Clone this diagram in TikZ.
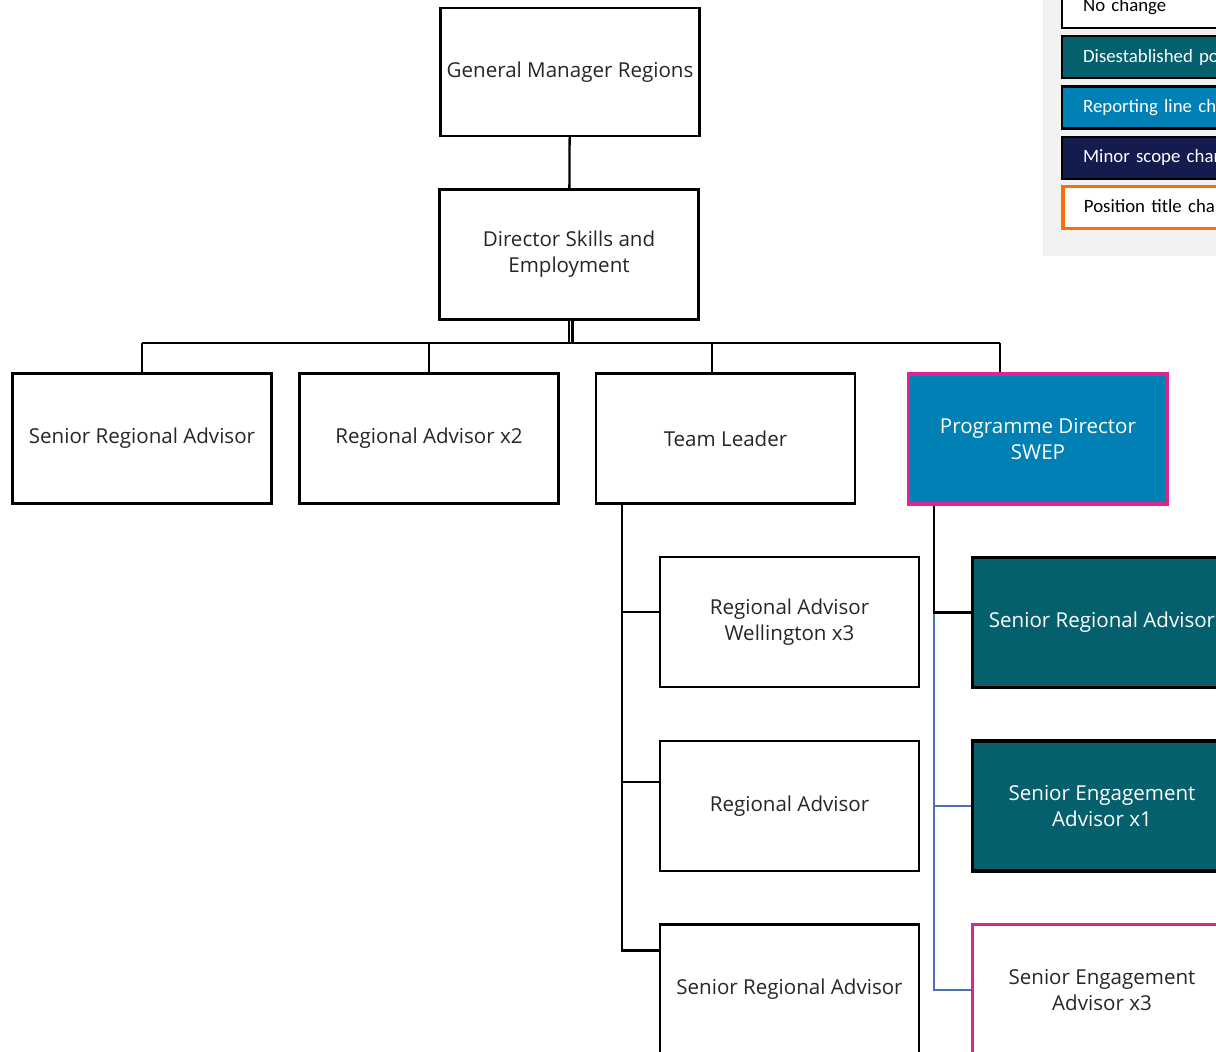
\documentclass[tikz,border=0pt]{standalone}
\usepackage{fontspec}
\setmainfont{Open Sans}
\newfontfamily\keyfont{Carlito}
\usetikzlibrary{positioning}

\definecolor{disest}{HTML}{04606D}
\definecolor{reportln}{HTML}{0080B5}
\definecolor{minorsc}{HTML}{141B4D}
\definecolor{titlechg}{HTML}{FF6C0C}
\definecolor{pdborder}{HTML}{D9278F}
\definecolor{lineblue}{HTML}{4A72B8}

\begin{document}
\begin{tikzpicture}[x=0.02cm, y=-0.02cm,
    box/.style={draw, line width=1.3pt, minimum width=5.18cm, minimum height=2.6cm,
      align=center, text=black!85, font=\fontsize{11.7}{14.8}\selectfont},
    gone/.style={box, fill=disest, text=white, line width=2.2pt},
    moved/.style={box, fill=reportln, draw=pdborder, text=white, line width=2pt},
    retitled/.style={box, draw=pdborder, line width=1.8pt},
    key/.style={draw, line width=1.3pt, anchor=west, minimum height=0.84cm,
      text width=6cm, align=left, inner xsep=0.42cm,
      font=\keyfont\fontsize{10.7}{12}\selectfont},
    link/.style={line width=1.3pt}]
  \clip (0,0) rectangle (1216,1051);

  % legend
  \fill[black!5] (1043,-10) rectangle (1230,256);
  \node[key, fill=white] (knone) at (1061,7) {No change};
  \node[key, fill=disest, text=white] (kgone) at (1061,57) {Disestablished position};
  \node[key, fill=reportln, text=white] (kline) at (1061,107.5) {Reporting line change};
  \node[key, fill=minorsc, text=white] (kscope) at (1061,158) {Minor scope change};
  \node[key, fill=white, draw=titlechg, line width=2.2pt] (ktitle) at (1061,207.5) {Position title change};

  % top of the tree
  \node[box, minimum height=2.56cm] (gm) at (570,72) {General Manager Regions};
  \node[box] (dir) at (569,254.5) {Director Skills and\\Employment};
  \draw[link] (gm) -- (dir);

  % second row
  \node[box] (sra) at (142,438.5) {Senior Regional Advisor};
  \node[box] (ra) at (429,438.5) {Regional Advisor x2};
  \node[box] (tl) at (725.5,438.5) {Team Leader};
  \node[moved] (pd) at (1038,439) {Programme Director\\SWEP};

  \coordinate (bus) at (571,343);
  \draw[link] (dir.south) -- (dir.south |- bus);
  \draw[link] ([xshift=0.07cm]dir.south) -- ([xshift=0.07cm]dir.south |- bus);
  \draw[link] (sra.north |- bus) -- ([xshift=-0.76cm]pd.north |- bus);
  \draw[link] (sra.north) -- (sra.north |- bus);
  \draw[link] (ra.north) -- (ra.north |- bus);
  \draw[link] ([xshift=-0.27cm]tl.north) -- ([xshift=-0.27cm]tl.north |- bus);
  \draw[link] ([xshift=-0.76cm]pd.north) -- ([xshift=-0.76cm]pd.north |- bus);

  % team leader reports
  \node[box] (sub1) at (789.5,622) {Regional Advisor\\Wellington x3};
  \node[box, below=1.03cm of sub1] (sub2) {Regional Advisor};
  \node[box, below=1.03cm of sub2] (sub3) {Senior Regional Advisor};

  \coordinate (tlspine) at ([xshift=0.54cm]tl.south west);
  \draw[link] (tlspine) |- ([yshift=0.78cm]sub3.west);
  \draw[link] (tlspine) |- ([yshift=0.48cm]sub2.west);
  \draw[link] (tlspine) |- ([yshift=0.2cm]sub1.west);

  % programme director reports
  \node[gone] (pd1) at (1102,622.5) {Senior Regional Advisor};
  \node[gone, below=1.0cm of pd1] (pd2) {Senior Engagement\\Advisor x1};
  \node[retitled, below=1.0cm of pd2] (pd3) {Senior Engagement\\Advisor x3};

  \coordinate (pdspine) at ([xshift=0.54cm]pd.south west);
  \draw[lineblue, line width=1pt] (pdspine) |- (pd3.west);
  \draw[lineblue, line width=1pt] (pdspine) |- (pd2.west);
  \draw[link] (pdspine) |- ([yshift=0.2cm]pd1.west);
\end{tikzpicture}
\end{document}
